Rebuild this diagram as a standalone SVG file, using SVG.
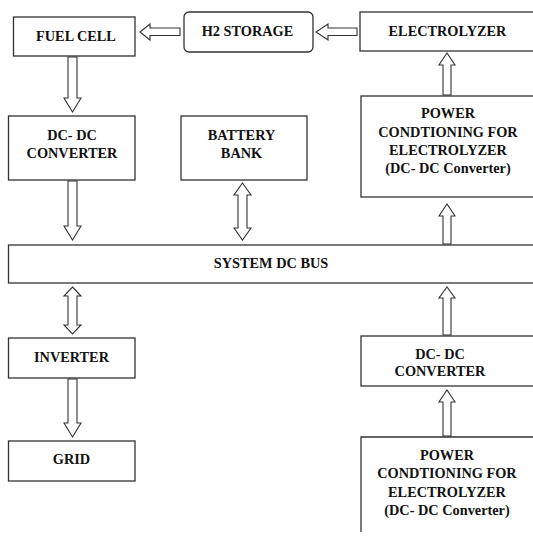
<svg xmlns="http://www.w3.org/2000/svg" width="533" height="537" viewBox="0 0 533 537">
<style>
.box{fill:#fff;stroke:#333;stroke-width:1.3}
.arr{fill:#fff;stroke:#333;stroke-width:1.1;stroke-linejoin:miter}
.t{font-family:'Liberation Serif','Times New Roman',Times,'DejaVu Serif',serif;font-weight:bold;font-size:14.3px;fill:#111;text-anchor:middle}
</style>
<rect width="533" height="537" fill="#fff"/>
<g id="connectors">
<path class="arr" d="M180,28 L150,28 L150,24 L140,32 L150,40 L150,35.5 L180,35.5 Z"/>
<path class="arr" d="M357,28 L328,28 L328,24 L316,32 L328,40 L328,35.5 L357,35.5 Z"/>
<path class="arr" d="M68,57 L77,57 L77,98 L81,98 L72.5,112 L64,98 L68,98 Z"/>
<path class="arr" d="M68,181 L77,181 L77,226 L81,226 L72.5,240 L64,226 L68,226 Z"/>
<path class="arr" d="M242.5,183 L251,195 L247,195 L247,228 L251,228 L242.5,240 L234,228 L238,228 L238,195 L234,195 Z"/>
<path class="arr" d="M72.5,287 L81,296 L77,296 L77,325 L81,325 L72.5,334 L64,325 L68,325 L68,296 L64,296 Z"/>
<path class="arr" d="M68,379 L77,379 L77,423 L81,423 L72.5,437 L64,423 L68,423 Z"/>
<path class="arr" d="M443,95 L451,95 L451,65 L455,65 L447,53 L439,65 L443,65 Z"/>
<path class="arr" d="M443,244 L451,244 L451,216 L455,216 L447,204 L439,216 L443,216 Z"/>
<path class="arr" d="M443,335 L451,335 L451,298 L455,298 L447,287 L439,298 L443,298 Z"/>
<path class="arr" d="M443,436 L451,436 L451,402 L455,402 L447,390 L439,402 L443,402 Z"/>
</g>
<g id="fuel-cell"><rect class="box" x="13.5" y="17" width="121.5" height="39"/><text class="t" x="76" y="40.5">FUEL CELL</text></g>
<g id="h2-storage"><rect class="box" x="184" y="12" width="129" height="40" rx="5"/><text class="t" x="247.5" y="36">H2 STORAGE</text></g>
<g id="electrolyzer"><rect class="box" x="360" y="12" width="185" height="39"/><text class="t" x="447.5" y="36">ELECTROLYZER</text></g>
<g id="dcdc-left"><rect class="box" x="8.5" y="116" width="126.5" height="64"/><text class="t" x="72" y="139.5">DC- DC</text><text class="t" x="72" y="157.5">CONVERTER</text></g>
<g id="battery-bank"><rect class="box" x="181" y="116" width="126" height="64"/><text class="t" x="241.5" y="139.5">BATTERY</text><text class="t" x="241.5" y="157.5">BANK</text></g>
<g id="power-cond-top"><rect class="box" x="361" y="96" width="185" height="101"/><text class="t" x="448" y="118">POWER</text><text class="t" x="448" y="136.5">CONDTIONING FOR</text><text class="t" x="448" y="155">ELECTROLYZER</text><text class="t" x="448" y="173">(DC- DC Converter)</text></g>
<g id="dc-bus"><rect class="box" x="8.5" y="245" width="540" height="38"/><text class="t" x="271" y="268">SYSTEM DC BUS</text></g>
<g id="inverter"><rect class="box" x="8.5" y="338" width="126.5" height="40"/><text class="t" x="71.5" y="362">INVERTER</text></g>
<g id="grid"><rect class="box" x="8.5" y="441" width="126.5" height="40"/><text class="t" x="71.5" y="464">GRID</text></g>
<g id="dcdc-right"><rect class="box" x="361" y="336" width="185" height="50"/><text class="t" x="440" y="359">DC- DC</text><text class="t" x="440" y="376">CONVERTER</text></g>
<g id="power-cond-bottom"><path class="box" d="M361,532 L361,437 L546,437" fill="none"/><text class="t" x="447" y="460">POWER</text><text class="t" x="447" y="478">CONDTIONING FOR</text><text class="t" x="447" y="497">ELECTROLYZER</text><text class="t" x="447" y="515">(DC- DC Converter)</text></g>
</svg>
